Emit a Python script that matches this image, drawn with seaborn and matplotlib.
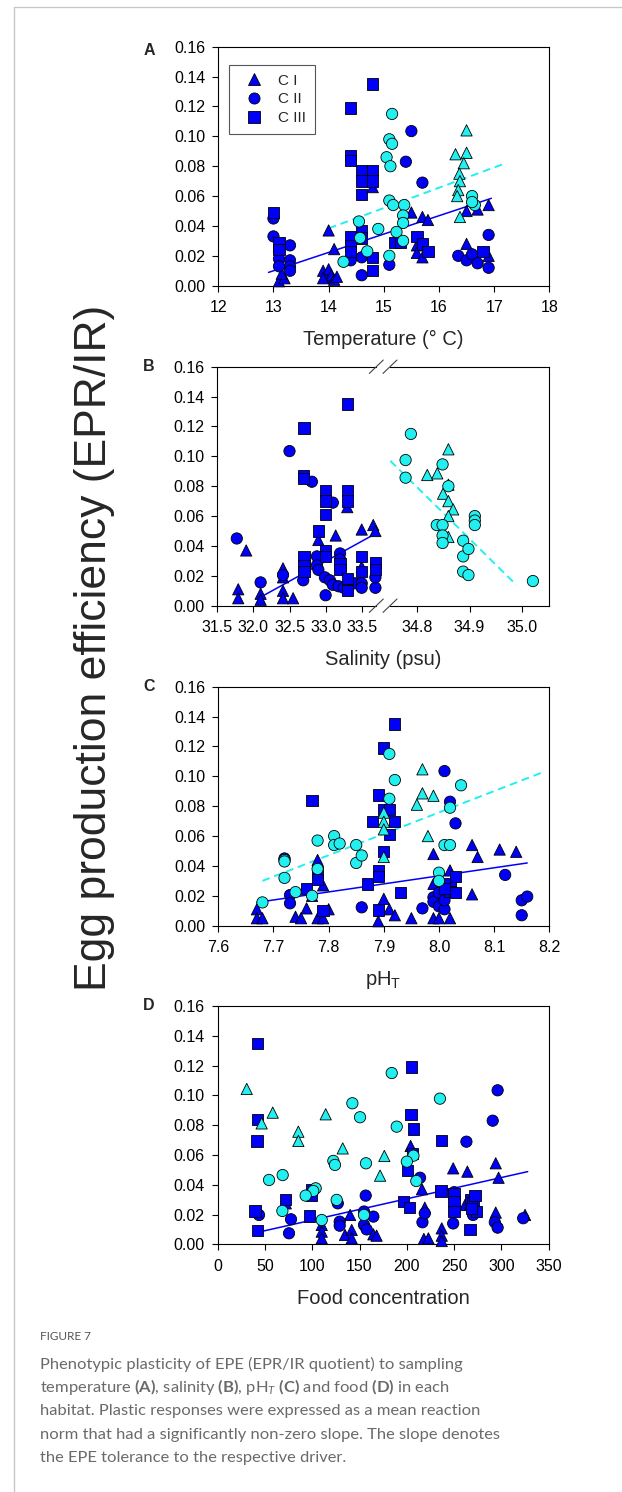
import pandas as pd
import matplotlib
matplotlib.use("Agg")
import matplotlib.pyplot as plt
from matplotlib.lines import Line2D
import seaborn as sns

# ---- data: (driver value, EPE) ----
# A: temperature
temp_blue_CI = [(14.0, 0.037), (14.1, 0.0245), (13.9, 0.010), (13.95, 0.006), (14.0, 0.011), (14.05, 0.007),
                (14.1, 0.004), (13.9, 0.005), (14.15, 0.006), (13.1, 0.003), (13.2, 0.005), (13.15, 0.008),
                (14.8, 0.066), (15.5, 0.049), (15.7, 0.046), (15.8, 0.044), (15.6, 0.027), (15.6, 0.022),
                (15.7, 0.019), (16.5, 0.028), (16.5, 0.050), (16.7, 0.051), (16.9, 0.054), (16.9, 0.020)]
temp_blue_CII = [(13.0, 0.045), (13.0, 0.033), (13.3, 0.027), (13.1, 0.023), (13.1, 0.018), (13.1, 0.013),
                 (13.3, 0.017), (13.3, 0.013), (13.3, 0.010), (14.4, 0.017), (14.6, 0.019), (14.6, 0.007),
                 (15.1, 0.014), (15.5, 0.1035), (15.4, 0.083), (15.7, 0.069), (16.35, 0.020), (16.5, 0.017),
                 (16.6, 0.021), (16.7, 0.015), (16.9, 0.012), (16.9, 0.034)]
temp_blue_CIII = [(13.0, 0.049), (13.1, 0.029), (13.1, 0.024), (14.4, 0.119), (14.8, 0.135), (14.4, 0.087),
                  (14.4, 0.084), (14.6, 0.077), (14.8, 0.077), (14.6, 0.070), (14.8, 0.070), (14.6, 0.061),
                  (14.4, 0.033), (14.4, 0.027), (14.4, 0.023), (14.6, 0.037), (14.6, 0.032), (14.8, 0.019),
                  (14.8, 0.010), (15.2, 0.029), (15.3, 0.029), (15.6, 0.033), (15.7, 0.028), (15.8, 0.023),
                  (16.8, 0.023)]
temp_cyan_CI = [(16.5, 0.104), (16.3, 0.088), (16.5, 0.089), (16.45, 0.082), (16.37, 0.075), (16.38, 0.070),
                (16.35, 0.064), (16.33, 0.060), (16.38, 0.046)]
temp_cyan_CII = [(15.15, 0.115), (15.1, 0.098), (15.15, 0.095), (15.05, 0.086), (15.12, 0.080), (15.1, 0.057),
                 (15.17, 0.054), (15.37, 0.054), (15.35, 0.047), (15.35, 0.042), (15.23, 0.036), (15.35, 0.030),
                 (15.1, 0.020), (14.55, 0.043), (14.57, 0.032), (14.9, 0.038), (14.7, 0.023), (14.27, 0.016),
                 (16.6, 0.060), (16.65, 0.054), (16.6, 0.056)]
temp_fit_blue = [(12.91, 0.0089), (16.95, 0.0585)]
temp_fit_cyan = [(14.0, 0.0384), (17.15, 0.0812)]

# B: salinity (broken axis)
sal_blue_CI = [(31.9, 0.037), (31.79, 0.011), (31.79, 0.005), (32.1, 0.008), (32.1, 0.004), (32.41, 0.025),
               (32.41, 0.019), (32.41, 0.010), (32.41, 0.005), (32.55, 0.005), (32.9, 0.044), (33.14, 0.047),
               (33.3, 0.066), (33.5, 0.051), (33.66, 0.054), (33.69, 0.050), (33.5, 0.026)]
sal_blue_CII = [(31.77, 0.045), (32.5, 0.1035), (32.81, 0.083), (33.1, 0.069), (32.1, 0.0156), (32.41, 0.0205),
                (32.69, 0.017), (32.88, 0.033), (32.88, 0.027), (32.9, 0.024), (33.0, 0.007), (32.99, 0.019),
                (33.06, 0.017), (33.1, 0.014), (33.2, 0.035), (33.2, 0.031), (33.18, 0.013), (33.25, 0.012),
                (33.4, 0.015), (33.5, 0.015), (33.5, 0.012), (33.69, 0.012), (33.69, 0.019)]
sal_blue_CIII = [(32.7, 0.119), (33.3, 0.135), (32.69, 0.087), (32.69, 0.085), (33.0, 0.077), (33.0, 0.070),
                 (33.0, 0.061), (33.3, 0.077), (33.3, 0.070), (32.9, 0.050), (32.7, 0.033), (32.7, 0.027),
                 (32.7, 0.023), (33.0, 0.037), (33.0, 0.033), (33.2, 0.028), (33.2, 0.024), (33.3, 0.018),
                 (33.3, 0.010), (33.5, 0.033), (33.5, 0.023), (33.69, 0.029), (33.69, 0.024)]
sal_cyan_CI = [(34.86, 0.1047), (34.82, 0.0875), (34.839, 0.0886), (34.86, 0.081), (34.85, 0.075), (34.86, 0.070),
               (34.869, 0.0645), (34.86, 0.060), (34.86, 0.046)]
sal_cyan_CII = [(34.789, 0.115), (34.779, 0.0975), (34.779, 0.0857), (34.849, 0.0946), (34.86, 0.080),
                (34.838, 0.054), (34.849, 0.054), (34.849, 0.047), (34.849, 0.042), (34.888, 0.0435),
                (34.888, 0.033), (34.898, 0.038), (34.888, 0.0228), (34.898, 0.0205), (34.91, 0.060),
                (34.91, 0.057), (34.91, 0.054), (35.02, 0.0165)]
sal_fit_blue = [(32.11, 0.006), (33.72, 0.049)]
sal_fit_cyan = [(34.75, 0.097), (34.989, 0.0138)]

# C: pH_T
ph_blue_CI = [(7.67, 0.011), (7.67, 0.005), (7.68, 0.005), (7.74, 0.006), (7.75, 0.005), (7.76, 0.0116),
              (7.78, 0.044), (7.77, 0.020), (7.78, 0.005), (7.79, 0.005), (7.8, 0.011), (7.79, 0.027),
              (7.9, 0.018), (7.89, 0.003), (7.91, 0.011), (7.92, 0.007), (7.95, 0.005), (7.99, 0.048),
              (7.99, 0.028), (8.02, 0.037), (7.99, 0.005), (8.0, 0.005), (8.02, 0.005), (8.06, 0.054),
              (8.07, 0.046), (8.11, 0.051), (8.14, 0.0495), (8.06, 0.021)]
ph_blue_CII = [(8.01, 0.1035), (8.02, 0.083), (8.03, 0.0685), (7.72, 0.045), (7.73, 0.0205), (7.73, 0.015),
               (7.86, 0.0123), (7.97, 0.0116), (7.99, 0.019), (7.99, 0.016), (8.0, 0.013), (8.01, 0.011),
               (8.0, 0.022), (8.01, 0.017), (8.12, 0.034), (8.15, 0.017), (8.16, 0.0195), (8.15, 0.007)]
ph_blue_CIII = [(7.92, 0.135), (7.9, 0.119), (7.77, 0.0837), (7.89, 0.0875), (7.9, 0.078), (7.91, 0.078),
                (7.88, 0.0696), (7.92, 0.0696), (7.91, 0.061), (7.9, 0.0495), (7.89, 0.037), (7.89, 0.033),
                (7.87, 0.028), (7.93, 0.022), (7.76, 0.025), (7.78, 0.036), (7.78, 0.031), (7.79, 0.010),
                (7.89, 0.0105), (8.02, 0.028), (8.03, 0.033), (8.02, 0.023), (8.03, 0.022), (8.01, 0.025)]
ph_cyan_CI = [(7.97, 0.1047), (7.97, 0.0886), (7.99, 0.087), (7.96, 0.081), (7.9, 0.0757), (7.9, 0.0696),
              (7.9, 0.0645), (7.98, 0.060), (7.9, 0.046)]
ph_cyan_CII = [(7.68, 0.0156), (7.72, 0.044), (7.72, 0.043), (7.72, 0.032), (7.74, 0.0225), (7.77, 0.020),
               (7.78, 0.038), (7.78, 0.057), (7.81, 0.060), (7.81, 0.054), (7.82, 0.055), (7.85, 0.054),
               (7.85, 0.042), (7.86, 0.047), (7.91, 0.115), (7.92, 0.0975), (7.91, 0.085), (8.02, 0.079),
               (8.04, 0.094), (8.01, 0.054), (8.02, 0.054), (8.0, 0.0355), (8.0, 0.030)]
ph_fit_blue = [(7.67, 0.0156), (8.16, 0.042)]
ph_fit_cyan = [(7.68, 0.030), (8.19, 0.103)]

# D: food concentration
food_blue_CI = [(204, 0.066), (249, 0.051), (264, 0.0488), (294, 0.0544), (297, 0.0447), (216, 0.037),
                (219, 0.0246), (140, 0.0197), (110, 0.013), (110, 0.0085), (110, 0.004), (134.6, 0.0063),
                (141.7, 0.0096), (141.7, 0.004), (164.6, 0.0067), (168, 0.0058), (218, 0.0036), (222.8, 0.004),
                (236.9, 0.0107), (236.9, 0.0058), (236.9, 0.0022), (261.5, 0.0264), (266.8, 0.0264),
                (294, 0.0213), (325, 0.0197), (72, 0.0275)]
food_blue_CII = [(296, 0.1034), (290.8, 0.083), (263, 0.0689), (214, 0.0447), (156.5, 0.0327), (127, 0.0275),
                 (43.7, 0.0197), (77.5, 0.0168), (75.4, 0.0074), (129, 0.0152), (129, 0.0125), (154.7, 0.022),
                 (154.7, 0.013), (157.5, 0.010), (164.6, 0.0186), (216.5, 0.0148), (219, 0.0208), (249, 0.014),
                 (250, 0.035), (270, 0.0197), (293, 0.0148), (296, 0.0112), (323, 0.0175)]
food_blue_CIII = [(42.3, 0.135), (42, 0.0837), (41.6, 0.0694), (39.5, 0.0224), (42, 0.0092), (72, 0.030),
                  (99.4, 0.037), (99.4, 0.0327), (97, 0.019), (205, 0.119), (204.4, 0.0873), (207, 0.0774),
                  (206, 0.061), (200.6, 0.0497), (196.3, 0.0286), (202.7, 0.0246), (236.9, 0.0696),
                  (236, 0.0358), (250, 0.034), (250, 0.0286), (250, 0.022), (266.8, 0.010), (267, 0.030),
                  (270, 0.028), (272, 0.033), (274, 0.022), (268, 0.024)]
food_cyan_CI = [(30.7, 0.1043), (58.2, 0.0884), (46.5, 0.0812), (85.3, 0.0756), (85.3, 0.0694), (114.2, 0.0873),
                (132.2, 0.0644), (176.2, 0.0593), (171.7, 0.0461)]
food_cyan_CII = [(184, 0.115), (235, 0.0978), (142.4, 0.0947), (150.5, 0.0853), (189.3, 0.079), (207, 0.0595),
                 (200, 0.0555), (122.3, 0.056), (124, 0.0533), (156.8, 0.0544), (68.7, 0.0465), (54.3, 0.0432),
                 (103.6, 0.0376), (101, 0.0358), (93, 0.0327), (125.8, 0.0298), (68.4, 0.0224), (110, 0.0163),
                 (154.7, 0.0197), (210, 0.0425)]
food_fit_blue = [(49, 0.009), (327.8, 0.0488)]

stages = ["C I", "C II", "C III"]
y_ticks = [0.00, 0.02, 0.04, 0.06, 0.08, 0.10, 0.12, 0.14, 0.16]
temp_ticks = [12, 13, 14, 15, 16, 17, 18]
sal_ticks_left = [31.5, 32.0, 32.5, 33.0, 33.5]
sal_ticks_right = [34.8, 34.9, 35.0]
ph_ticks = [7.6, 7.7, 7.8, 7.9, 8.0, 8.1, 8.2]
food_ticks = [0, 50, 100, 150, 200, 250, 300, 350]

caption_lines = [
    "Phenotypic plasticity of EPE (EPR/IR quotient) to sampling",
    r"temperature $\mathbf{(A)}$, salinity $\mathbf{(B)}$, pH$_{\mathit{T}}$ $\mathbf{(C)}$ and food $\mathbf{(D)}$ in each",
    "habitat. Plastic responses were expressed as a mean reaction",
    "norm that had a significantly non-zero slope. The slope denotes",
    "the EPE tolerance to the respective driver.",
]

BLUE = "#0000F8"
CYAN = "#22F0F0"
palette = {"blue": BLUE, "cyan": CYAN}
markers = {"C I": "^", "C II": "o", "C III": "s"}
MS = 66


def frame(groups):
    rows = []
    for pts, hab, stg in groups:
        for x, y in pts:
            rows.append({"x": x, "y": y, "habitat": hab, "stage": stg})
    return pd.DataFrame(rows)


sns.set_theme(style="ticks")
plt.rcParams["font.family"] = ["Liberation Sans", "DejaVu Sans"]
plt.rcParams["mathtext.fontset"] = "custom"
plt.rcParams["mathtext.rm"] = "Lato"
plt.rcParams["mathtext.bf"] = "Lato:bold"
plt.rcParams["mathtext.it"] = "Lato:italic"
plt.rcParams["mathtext.sf"] = "Liberation Sans"

W, H = 622, 1492
fig = plt.figure(figsize=(W / 100, H / 100), dpi=100)


def rect(l, t, r, b):
    return [l / W, 1 - b / H, (r - l) / W, (b - t) / H]


def style_axis(ax, xticks, fmt):
    ax.set_ylim(0, 0.16)
    ax.set_yticks(y_ticks)
    ax.set_yticklabels([f"{v:.2f}" for v in y_ticks])
    ax.set_xticks(xticks)
    ax.set_xticklabels([fmt.format(v) for v in xticks])
    ax.tick_params(direction="out", length=4.3, width=0.8, labelsize=11.5, color="black", labelcolor="black")
    ax.tick_params(axis="x", pad=6)
    ax.tick_params(axis="y", pad=5)
    for sp in ax.spines.values():
        sp.set_visible(True)
        sp.set_color("black")
        sp.set_linewidth(0.8)
    ax.set_xlabel("")
    ax.set_ylabel("")
    ax.grid(False)


def scatter(ax, df):
    sns.scatterplot(data=df, x="x", y="y", hue="habitat", style="stage", palette=palette, markers=markers,
                    hue_order=["blue", "cyan"], style_order=stages, s=MS, edgecolor="black", linewidth=0.6,
                    legend=False, ax=ax, clip_on=False, zorder=3)


def fit_line(ax, pts, color, dashed=False):
    xs = [p[0] for p in pts]
    ys = [p[1] for p in pts]
    if dashed:
        ax.plot(xs, ys, color=color, lw=1.4, ls=(0, (4, 2.5)), zorder=2)
    else:
        ax.plot(xs, ys, color=color, lw=1.1, zorder=2)


# ---- A ----
axA = fig.add_axes(rect(218.3, 46.7, 549.3, 285.7))
scatter(axA, frame([(temp_blue_CI, "blue", "C I"), (temp_blue_CII, "blue", "C II"),
                    (temp_blue_CIII, "blue", "C III"), (temp_cyan_CI, "cyan", "C I"),
                    (temp_cyan_CII, "cyan", "C II")]))
fit_line(axA, temp_fit_blue, BLUE)
fit_line(axA, temp_fit_cyan, CYAN, dashed=True)
axA.set_xlim(12, 18)
style_axis(axA, temp_ticks, "{:d}")
handles = [Line2D([], [], marker=markers[s], color=BLUE, markeredgecolor="black", markeredgewidth=0.6,
                  markersize=8, linestyle="none") for s in stages]
leg = axA.legend(handles, stages, loc="upper left", bbox_to_anchor=(0.033, 0.925), borderaxespad=0,
                 fontsize=11, frameon=True, fancybox=False, edgecolor="#555555", framealpha=1,
                 handlelength=2.0, handletextpad=0.6, borderpad=0.6, labelspacing=0.3)
leg.get_frame().set_linewidth(0.8)

# ---- B (broken x axis) ----
axBl = fig.add_axes(rect(217.3, 366.7, 376, 605.7))
axBr = fig.add_axes(rect(390, 366.7, 549.3, 605.7))
scatter(axBl, frame([(sal_blue_CI, "blue", "C I"), (sal_blue_CII, "blue", "C II"),
                     (sal_blue_CIII, "blue", "C III")]))
fit_line(axBl, sal_fit_blue, BLUE)
scatter(axBr, frame([(sal_cyan_CI, "cyan", "C I"), (sal_cyan_CII, "cyan", "C II")]))
fit_line(axBr, sal_fit_cyan, CYAN, dashed=True)
axBl.set_xlim(31.5, 33.698)
axBr.set_xlim(34.7495, 35.051)
style_axis(axBl, sal_ticks_left, "{:.1f}")
style_axis(axBr, sal_ticks_right, "{:.1f}")
axBl.spines["right"].set_visible(False)
axBr.spines["left"].set_visible(False)
axBr.tick_params(axis="y", left=False, labelleft=False)
for ybar in (366.7, 605.7):
    for xc in (376.3, 390.0):
        fig.add_artist(Line2D([(xc - 7) / W, (xc + 7) / W], [1 - (ybar + 6.7) / H, 1 - (ybar - 6.7) / H],
                              transform=fig.transFigure, color="#444444", lw=0.8))

# ---- C ----
axC = fig.add_axes(rect(218.3, 686.7, 549.3, 925.7))
scatter(axC, frame([(ph_blue_CI, "blue", "C I"), (ph_blue_CII, "blue", "C II"),
                    (ph_blue_CIII, "blue", "C III"), (ph_cyan_CI, "cyan", "C I"),
                    (ph_cyan_CII, "cyan", "C II")]))
fit_line(axC, ph_fit_blue, BLUE)
fit_line(axC, ph_fit_cyan, CYAN, dashed=True)
axC.set_xlim(7.6, 8.2)
style_axis(axC, ph_ticks, "{:.1f}")

# ---- D ----
axD = fig.add_axes(rect(217.7, 1006, 548.7, 1244.3))
scatter(axD, frame([(food_blue_CI, "blue", "C I"), (food_blue_CII, "blue", "C II"),
                    (food_blue_CIII, "blue", "C III"), (food_cyan_CI, "cyan", "C I"),
                    (food_cyan_CII, "cyan", "C II")]))
fit_line(axD, food_fit_blue, BLUE)
axD.set_xlim(0, 350)
style_axis(axD, food_ticks, "{:d}")

# axis titles and panel letters
xlabels = [("Temperature (° C)", 285.7), ("Salinity (psu)", 605.7), (r"pH$_\mathsf{T}$", 925.7),
           ("Food concentration", 1244.3)]
for txt, bottom in xlabels:
    fig.text(383.5 / W, 1 - (bottom + 59.3) / H, txt, ha="center", va="baseline", fontsize=14.5)
for letter, top in [("A", 50.5), ("B", 366.7), ("C", 686.7), ("D", 1006)]:
    fig.text(149 / W, 1 - top / H, letter, ha="center", va="center", fontsize=11.5, fontweight="bold")

fig.text(95 / W, 1 - 648 / H, "Egg production efficiency (EPR/IR)", rotation=90, ha="center", va="center",
         fontsize=32)

# page border
fig.add_artist(Line2D([14 / W, 14 / W], [0, 1 - 7 / H], transform=fig.transFigure, color="#c8c8c8", lw=1))
fig.add_artist(Line2D([14 / W, 1], [1 - 7 / H, 1 - 7 / H], transform=fig.transFigure, color="#c8c8c8", lw=1))

# caption
GRAY = "#6a6a6a"
fig.text(40 / W, 1 - 1340 / H, "FIGURE 7", fontsize=8.5, color="#555555", family=["Lato", "DejaVu Sans"],
         va="baseline")
renderer = fig.canvas.get_renderer()
probe = fig.text(0, 0, caption_lines[3], fontsize=12, family=["Lato", "DejaVu Sans"])
cap_size = 12 * 457 / probe.get_window_extent(renderer).width
probe.remove()
for i, line in enumerate(caption_lines):
    fig.text(40 / W, 1 - (1369 + 23.2 * i) / H, line, fontsize=cap_size, color=GRAY,
             family=["Lato", "DejaVu Sans"], va="baseline")

plt.savefig("out.png", dpi=100)
